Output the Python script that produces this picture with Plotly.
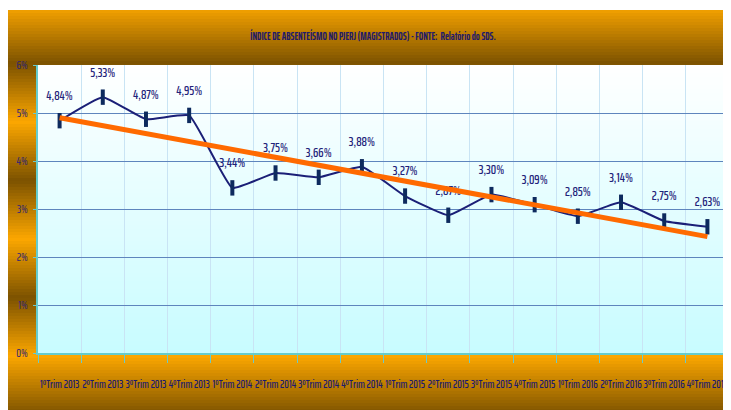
import numpy as np
import plotly.graph_objects as go

# ---------------- data ----------------
categories = ["1ºTrim 2013", "2ºTrim 2013", "3ºTrim 2013", "4ºTrim 2013",
              "1ºTrim 2014", "2ºTrim 2014", "3ºTrim 2014", "4ºTrim 2014",
              "1ºTrim 2015", "2ºTrim 2015", "3ºTrim 2015", "4ºTrim 2015",
              "1ºTrim 2016", "2ºTrim 2016", "3ºTrim 2016", "4ºTrim 2016"]
values = [4.84, 5.33, 4.87, 4.95, 3.44, 3.75, 3.66, 3.88,
          3.27, 2.87, 3.30, 3.09, 2.85, 3.14, 2.75, 2.63]
y_tick_values = [0, 1, 2, 3, 4, 5, 6]
y_tick_labels = ["0%", "1%", "2%", "3%", "4%", "5%", "6%"]
title_text = "ÍNDICE DE ABSENTEÍSMO NO PJERJ (MAGISTRADOS) - FONTE:  Relatório do SDS."

# ---------------- geometry / style ----------------
# the page body adds an 8px offset, so the figure is 723x402 and starts at (8, 8)
OFF = 8
W, H = 731 - OFF, 410 - OFF
L, R, T, B = 38 - OFF, 2, 65 - OFF, 410 - 353
PW, PH = W - L - R, H - T - B
FONT = ("Saira ExtraCondensed, Saira Extra Condensed, Fira Sans Extra Condensed, "
        "Roboto Condensed, Liberation Sans Narrow, sans-serif")
NAVY = "#1B1F77"
LABEL = "#1F237A"


def fx(sx):          # screen pixel x -> paper x
    return (sx - OFF - L) / PW


def fy(sy):          # screen pixel y -> paper y
    return (H - B - (sy - OFF)) / PH


def mix(c1, c2, t):
    a = [int(c1[i:i + 2], 16) for i in (1, 3, 5)]
    b = [int(c2[i:i + 2], 16) for i in (1, 3, 5)]
    return "rgb(%d,%d,%d)" % tuple(round(a[k] + (b[k] - a[k]) * t) for k in range(3))


shapes = []
# orange/brown frame (tiled vertical gradient), screen coords
ORANGE, BROWN = "#FCA700", "#7C5200"
step = 3
for sy in range(10, 410, step):
    ph = ((sy + step / 2 - 5) % 117)
    f = abs(ph - 58.5) / 58.5
    shapes.append(dict(type="rect", xref="paper", yref="paper", layer="below",
                       x0=fx(7), x1=fx(731), y0=fy(min(sy + step + 0.6, 410)), y1=fy(sy),
                       fillcolor=mix(BROWN, ORANGE, f), line=dict(width=0)))
# plot area gradient white -> light cyan
step = 4
for sy in range(65, 353, step):
    t = (sy + step / 2 - 65) / 288
    shapes.append(dict(type="rect", xref="paper", yref="paper", layer="below",
                       x0=0, x1=1, y0=fy(min(sy + step + 0.6, 353)), y1=fy(sy),
                       fillcolor=mix("#FFFFFF", "#C8FCFF", t), line=dict(width=0)))

x_idx = np.arange(len(values))
slope, intercept = np.polyfit(x_idx, values, 1)
trend = slope * x_idx + intercept

text_labels = [("%.2f" % v).replace(".", ",") + "%" for v in values]

fig = go.Figure()
fig.add_trace(go.Scatter(
    x=categories, y=values, mode="lines+markers",
    line=dict(color=NAVY, width=2, shape="spline", smoothing=0.35),
    marker=dict(symbol="line-ns", size=11, line=dict(color="#0D2A5E", width=4)),
    hoverinfo="skip", showlegend=False, cliponaxis=False))
fig.add_trace(go.Scatter(
    x=categories, y=values, mode="markers+text",
    marker=dict(size=26, color="rgba(0,0,0,0)"),
    text=text_labels, textposition="top center",
    textfont=dict(family=FONT, size=13.5, color=LABEL, weight=500),
    hoverinfo="skip", showlegend=False, cliponaxis=False))
fig.add_trace(go.Scatter(
    x=categories, y=trend, mode="lines",
    line=dict(color="#FF6A00", width=5),
    hoverinfo="skip", showlegend=False))

fig.update_layout(
    width=W, height=H,
    margin=dict(l=L, r=R, t=T, b=B, pad=0, autoexpand=False),
    paper_bgcolor="white", plot_bgcolor="rgba(0,0,0,0)",
    shapes=shapes,
    title=dict(text=title_text, x=(373 - OFF) / W, xanchor="center", xref="container",
               y=1 - (36 - OFF) / H, yanchor="middle", yref="container", automargin=False,
               font=dict(family=FONT, size=10.5, color="#231A6A", weight="bold")),
    xaxis=dict(type="category", range=[-0.5, len(categories) - 0.5],
               tickson="boundaries", ticks="outside", ticklen=8,
               tickcolor="#6CC9C9", showline=True, linecolor="#66CCCC", linewidth=1.5,
               showgrid=True, gridcolor="#C9E4F4", gridwidth=1, automargin=False,
               tickfont=dict(family=FONT, size=11.5, color="#1A1A70", weight=500),
               ticklabelstandoff=19, tickangle=0, fixedrange=True),
    yaxis=dict(range=[0, 6], tickvals=y_tick_values, ticktext=y_tick_labels,
               ticks="outside", ticklen=3, tickcolor="#6CC9C9", automargin=False,
               showline=True, linecolor="#66CCCC", linewidth=1.5,
               showgrid=True, gridcolor="#5E85BD", gridwidth=1, zeroline=False,
               tickfont=dict(family=FONT, size=12, color="#2E2472"),
               ticklabelstandoff=3, fixedrange=True),
)

fig.write_html("out.html")
